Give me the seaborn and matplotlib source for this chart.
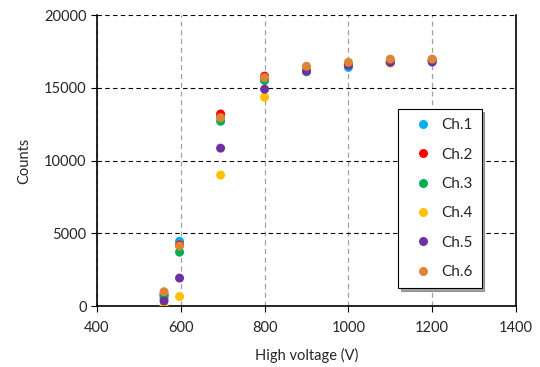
import matplotlib
matplotlib.use("Agg")
import matplotlib.pyplot as plt
import pandas as pd
import seaborn as sns

# high voltage settings (V)
voltage = [560, 597, 695, 800, 900, 1000, 1100, 1200]

# counts per channel
ch1 = [550, 4450, 13000, 15600, 16350, 16400, 16750, 16850]
ch2 = [800, 4200, 13200, 15800, 16200, 16600, 16800, 16900]
ch3 = [700, 3700, 12700, 15500, 16100, 16550, 16750, 16850]
ch4 = [50, 650, 9000, 14350, 16300, 16600, 16700, 16900]
ch5 = [350, 1920, 10850, 14900, 16150, 16550, 16750, 16770]
ch6 = [980, 4120, 12950, 15700, 16480, 16750, 16970, 16970]

channels = ["Ch.1", "Ch.2", "Ch.3", "Ch.4", "Ch.5", "Ch.6"]
colors = ["#00B0F0", "#FF0000", "#00B050", "#FFC000", "#7030A0", "#DD8436"]

rows = []
for name, vals in zip(channels, [ch1, ch2, ch3, ch4, ch5, ch6]):
    for v, c in zip(voltage, vals):
        rows.append({"voltage": v, "counts": c, "channel": name})
df = pd.DataFrame(rows)

sns.set_style("white")
plt.rcParams["font.family"] = ["Lato", "DejaVu Sans"]

fig = plt.figure(figsize=(5.4, 3.67), dpi=100)
ax = fig.add_axes([0.1796, 0.1662, 0.7760, 0.7928])

sns.scatterplot(data=df, x="voltage", y="counts", hue="channel",
                palette=colors, s=42, edgecolor="none", ax=ax, zorder=3)

ax.set_xlim(400, 1400)
ax.set_ylim(0, 20000)
ax.set_xticks(range(400, 1401, 200))
ax.set_yticks(range(0, 20001, 5000))
ax.tick_params(labelsize=10.5, length=4, direction="out", color="black")
ax.tick_params(axis="x", pad=7)
ax.xaxis.set_ticks_position("bottom")
ax.yaxis.set_ticks_position("left")

# dashed grid: gray verticals, dark horizontals
ax.xaxis.grid(True, linestyle=(0, (4, 3)), color="#a0a0a0", linewidth=0.9)
ax.yaxis.grid(True, linestyle=(0, (4, 3)), color="black", linewidth=0.8)
ax.set_axisbelow(True)

for side in ["left", "bottom", "right"]:
    ax.spines[side].set_color("black")
    ax.spines[side].set_linewidth(1.2)
ax.spines["top"].set_visible(False)

ax.set_xlabel("High voltage (V)", fontsize=10.5, labelpad=9)
ax.set_ylabel("Counts", fontsize=10.5, labelpad=9)

leg = ax.legend(loc="upper left", bbox_to_anchor=(0.719, 0.676), frameon=True,
                fancybox=False, shadow=True, fontsize=11, labelspacing=1.0,
                handletextpad=0.2, borderpad=0.6, borderaxespad=0,
                markerscale=1.0)
leg.get_frame().set_edgecolor("black")
leg.get_frame().set_linewidth(0.8)

fig.savefig("out.png", dpi=100)
